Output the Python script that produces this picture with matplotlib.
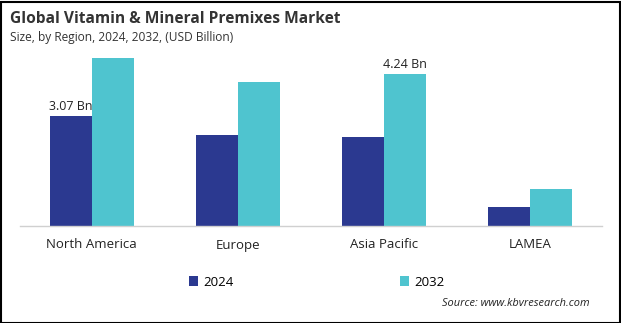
import matplotlib
matplotlib.use("Agg")
import matplotlib.pyplot as plt
from matplotlib.patches import Rectangle
import numpy as np

plt.rcParams['font.family'] = ['Open Sans', 'DejaVu Sans']

regions = ["North America", "Europe", "Asia Pacific", "LAMEA"]
years = ["2024", "2032"]
vals_2024 = [3.07, 2.54, 2.48, 0.53]
vals_2032 = [4.70, 4.02, 4.24, 1.04]
colors = ["#2b3990", "#4fc4cf"]

W, H = 621, 323
fig = plt.figure(figsize=(W / 100, H / 100), dpi=100)

ax = fig.add_axes([20 / W, (H - 226) / H, (602 - 20) / W, (226 - 50) / H])
x = np.arange(len(regions))
bw = 0.288
b1 = ax.bar(x - bw / 2, vals_2024, bw, color=colors[0], label=years[0])
b2 = ax.bar(x + bw / 2, vals_2032, bw, color=colors[1], label=years[1])

ax.set_xlim(-0.49, 3.49)
ax.set_ylim(0, 176 / 35.83)
ax.set_yticks([])
ax.set_xticks(x)
ax.set_xticklabels(regions, fontsize=9.5, color="#222222")
ax.tick_params(axis="x", length=0, pad=9)
for s in ["top", "right", "left"]:
    ax.spines[s].set_visible(False)
ax.spines["bottom"].set_color("#d0d0d0")
ax.spines["bottom"].set_linewidth(1)

ax.text(x[0] - bw / 2, vals_2024[0] + 0.08, "3.07 Bn", ha="center", va="bottom",
        fontsize=9, color="#222222")
ax.text(x[2] + bw / 2, vals_2032[2] + 0.08, "4.24 Bn", ha="center", va="bottom",
        fontsize=9, color="#222222")

fig.text(10 / W, 1 - 19 / H, "Global Vitamin & Mineral Premixes Market", fontsize=11.2,
         fontweight="bold", color="#333333", va="center")
fig.text(10 / W, 1 - 38 / H, "Size, by Region, 2024, 2032, (USD Billion)", fontsize=8.6,
         color="#333333", va="center")

fig.legend(handles=[b1, b2], labels=years, loc="center", bbox_to_anchor=(317 / W, 1 - 282 / H),
           ncol=2, frameon=False, fontsize=9.5, handlelength=0.7, handleheight=0.7,
           handletextpad=0.4, columnspacing=12.6)

fig.text(590 / W, 1 - 303 / H, "Source: www.kbvresearch.com", fontsize=7.9, style="italic",
         color="#222222", ha="right", va="center")

fig.patches.append(Rectangle((0.5 / W, 0.5 / H), 1 - 2 / W, 1 - 2 / H, transform=fig.transFigure,
                             fill=False, edgecolor="black", linewidth=1.5))

fig.savefig("out.png", dpi=100)
